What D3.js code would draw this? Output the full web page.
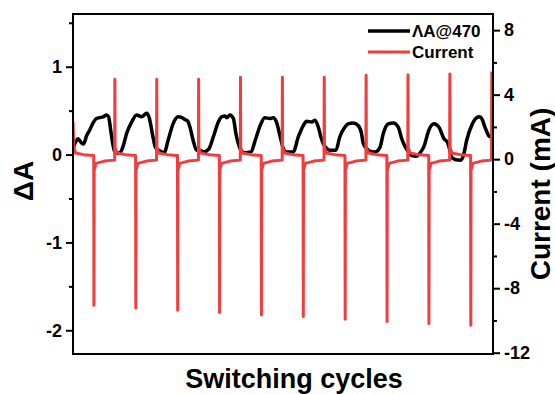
<!DOCTYPE html>
<html>
<head>
<meta charset="utf-8">
<script src="https://cdn.jsdelivr.net/npm/d3@7"></script>
<style>
  body { margin: 0; background: #fff; }
  .chart { width: 555px; height: 394px; }
  text { font-family: "Liberation Sans", Arial, sans-serif; font-weight: bold; fill: #000; }
</style>
</head>
<body>
<div class="chart"></div>
<script>
// ΔA@470 trace, [switching time (cycles), ΔA]
var absTrace = [
  [0.00, 0.08], [0.06, 0.14], [0.12, 0.18], [0.19, 0.14], [0.25, 0.12], [0.33, 0.22], [0.40, 0.28],
  [0.48, 0.36], [0.56, 0.41], [0.64, 0.42], [0.72, 0.43], [0.80, 0.45], [0.85, 0.43], [0.90, 0.28],
  [0.95, 0.12], [0.99, 0.04],
  [1.04, 0.015], [1.12, 0.02], [1.20, 0.10], [1.28, 0.24], [1.40, 0.37], [1.52, 0.45], [1.64, 0.43],
  [1.76, 0.47], [1.82, 0.42], [1.91, 0.20], [1.97, 0.08],
  [2.08, 0.04], [2.18, 0.02], [2.27, 0.16], [2.39, 0.35], [2.51, 0.43], [2.60, 0.42], [2.67, 0.40],
  [2.74, 0.38], [2.80, 0.30], [2.87, 0.16], [2.95, 0.05],
  [3.02, 0.05], [3.12, 0.03], [3.24, 0.06], [3.35, 0.20], [3.47, 0.37], [3.55, 0.43], [3.63, 0.44],
  [3.67, 0.42], [3.75, 0.45], [3.83, 0.41], [3.89, 0.24], [3.95, 0.12], [4.01, 0.05],
  [4.10, 0.02], [4.25, 0.03], [4.35, 0.16], [4.47, 0.33], [4.58, 0.42], [4.70, 0.41], [4.78, 0.42],
  [4.86, 0.37], [4.93, 0.24], [4.98, 0.14], [5.02, 0.07],
  [5.10, 0.03], [5.26, 0.03], [5.38, 0.20], [5.50, 0.33], [5.58, 0.38], [5.70, 0.37], [5.78, 0.39],
  [5.86, 0.31], [5.92, 0.20], [5.98, 0.12], [6.06, 0.07],
  [6.14, 0.05], [6.28, 0.05], [6.37, 0.20], [6.49, 0.31], [6.57, 0.35], [6.69, 0.36], [6.81, 0.33],
  [6.89, 0.24], [6.93, 0.13], [7.01, 0.07],
  [7.09, 0.04], [7.22, 0.03], [7.33, 0.08], [7.41, 0.24], [7.53, 0.35], [7.65, 0.36], [7.77, 0.31],
  [7.85, 0.18], [7.93, 0.09], [8.01, 0.03],
  [8.08, -0.01], [8.20, -0.02], [8.29, 0.02], [8.38, 0.09], [8.50, 0.28], [8.62, 0.35], [8.74, 0.31],
  [8.86, 0.18], [8.94, 0.14], [9.00, 0.05],
  [9.04, -0.03], [9.14, -0.06], [9.26, -0.065], [9.33, 0.00], [9.40, 0.16], [9.52, 0.33], [9.64, 0.42],
  [9.70, 0.43], [9.76, 0.41], [9.84, 0.31], [9.92, 0.22], [10.00, 0.19], [10.03, 0.17]
];

// current trace, [switching time (cycles), mA]
var currentTrace = [
  [0.00, 2.30], [0.02, 0.80], [0.06, 0.38], [0.25, 0.28], [0.495, 0.22],
  [0.50, -9.06], [0.505, -0.70], [0.55, -0.26], [0.75, -0.12], [0.995, -0.06],
  [1.00, 4.96], [1.005, 0.70], [1.05, 0.38], [1.25, 0.28], [1.495, 0.22],
  [1.50, -9.23], [1.505, -0.70], [1.55, -0.26], [1.75, -0.12], [1.995, -0.06],
  [2.00, 4.96], [2.005, 0.70], [2.05, 0.38], [2.25, 0.28], [2.495, 0.22],
  [2.50, -9.37], [2.505, -0.70], [2.55, -0.26], [2.75, -0.12], [2.995, -0.06],
  [3.00, 4.96], [3.005, 0.70], [3.05, 0.38], [3.25, 0.28], [3.495, 0.22],
  [3.50, -9.50], [3.505, -0.70], [3.55, -0.26], [3.75, -0.12], [3.995, -0.06],
  [4.00, 5.08], [4.005, 0.70], [4.05, 0.38], [4.25, 0.28], [4.495, 0.22],
  [4.50, -9.66], [4.505, -0.70], [4.55, -0.26], [4.75, -0.12], [4.995, -0.06],
  [5.00, 5.08], [5.005, 0.70], [5.05, 0.38], [5.25, 0.28], [5.495, 0.22],
  [5.50, -9.75], [5.505, -0.70], [5.55, -0.26], [5.75, -0.12], [5.995, -0.06],
  [6.00, 5.08], [6.005, 0.70], [6.05, 0.38], [6.25, 0.28], [6.495, 0.22],
  [6.50, -9.93], [6.505, -0.70], [6.55, -0.26], [6.75, -0.12], [6.995, -0.06],
  [7.00, 5.20], [7.005, 0.70], [7.05, 0.38], [7.25, 0.28], [7.495, 0.22],
  [7.50, -10.06], [7.505, -0.70], [7.55, -0.26], [7.75, -0.12], [7.995, -0.06],
  [8.00, 5.24], [8.005, 0.70], [8.05, 0.38], [8.25, 0.28], [8.495, 0.22],
  [8.50, -10.19], [8.505, -0.70], [8.55, -0.26], [8.75, -0.12], [8.995, -0.06],
  [9.00, 5.28], [9.005, 0.70], [9.05, 0.38], [9.25, 0.28], [9.495, 0.22],
  [9.50, -10.30], [9.505, -0.70], [9.55, -0.26], [9.75, -0.12], [9.995, -0.06],
  [10.00, 5.35], [10.005, 0.70], [10.03, 0.45]
];

var leftTicks = [-2, -1, 0, 1];
var leftMinorTicks = [-1.5, -0.5, 0.5, 1.5];
var rightTicks = [-12, -8, -4, 0, 4, 8];
var rightMinorTicks = [-10, -6, -2, 2, 6];
var legendLabels = ["\u039BA@470", "Current"];

function drawSwitchingChart() {
  var eleChart = d3.select(".chart").html(""),
      W = 555, H = 394,
      margin = {top: 14, right: 62, bottom: 40, left: 73},
      width = W - margin.left - margin.right,
      height = H - margin.top - margin.bottom;

  var svg = eleChart.append("svg").attr("width", W).attr("height", H);

  var x = d3.scaleLinear().domain([0, 10.03]).range([0, width]),
      yL = d3.scaleLinear().domain([-2.27, 1.6]).range([height, 0]),
      yR = d3.scaleLinear().domain([-12.08, 9]).range([height, 0]);

  var g = svg.append("g")
      .attr("transform", "translate(" + margin.left + "," + margin.top + ")");

  g.append("clipPath").attr("id", "plotClip")
    .append("rect").attr("width", width).attr("height", height);

  var lineA = d3.line()
      .x(function(d) { return x(d[0]); })
      .y(function(d) { return yL(d[1]); })
      .curve(d3.curveMonotoneX);

  var lineI = d3.line()
      .x(function(d) { return x(d[0]); })
      .y(function(d) { return yR(d[1]); });

  var plot = g.append("g").attr("clip-path", "url(#plotClip)");

  plot.append("path")
      .datum(absTrace)
      .attr("fill", "none")
      .attr("stroke", "#000")
      .attr("stroke-width", 3.5)
      .attr("stroke-linejoin", "round")
      .attr("d", lineA);

  plot.append("path")
      .datum(currentTrace)
      .attr("fill", "none")
      .attr("stroke", "#f23c3f")
      .attr("stroke-width", 3)
      .attr("stroke-linejoin", "round")
      .attr("stroke-linecap", "round")
      .attr("d", lineI);

  // frame
  g.append("rect")
      .attr("width", width).attr("height", height)
      .attr("fill", "none").attr("stroke", "#000").attr("stroke-width", 2);

  // left axis, major + minor
  var axL = g.append("g")
      .attr("class", "axis axis-y")
      .call(d3.axisLeft(yL).tickValues(leftTicks).tickSize(7).tickPadding(4).tickFormat(d3.format("d")));
  g.append("g")
      .attr("class", "axis minor")
      .call(d3.axisLeft(yL).tickValues(leftMinorTicks).tickSize(4).tickFormat(""));

  // right axis, major + minor
  var axR = g.append("g")
      .attr("class", "axis axis-y2")
      .attr("transform", "translate(" + width + ",0)")
      .call(d3.axisRight(yR).tickValues(rightTicks).tickSize(7).tickPadding(4).tickFormat(d3.format("d")));
  g.append("g")
      .attr("class", "axis minor")
      .attr("transform", "translate(" + width + ",0)")
      .call(d3.axisRight(yR).tickValues(rightMinorTicks).tickSize(4).tickFormat(""));

  g.selectAll(".domain").remove();
  g.selectAll(".tick line").attr("stroke", "#000").attr("stroke-width", 2);
  g.selectAll(".minor .tick text").remove();
  [axL, axR].forEach(function(ax) {
    ax.selectAll(".tick text")
        .style("font-family", "'Liberation Sans', Arial, sans-serif")
        .style("font-weight", "bold")
        .style("font-size", "18px")
        .text(function(d) { return String(d); });
  });

  // axis titles
  svg.append("text")
      .attr("transform", "translate(33," + (margin.top + height / 2 - 3) + ") rotate(-90)")
      .attr("text-anchor", "middle")
      .style("font-size", "28px")
      .text("\u0394A");

  svg.append("text")
      .attr("transform", "translate(550,194) rotate(-90)")
      .attr("text-anchor", "middle")
      .style("font-size", "28px")
      .text("Current (mA)");

  svg.append("text")
      .attr("x", 294).attr("y", 388)
      .attr("text-anchor", "middle")
      .style("font-size", "27px")
      .text("Switching cycles");

  // legend
  var legendColors = ["#000", "#f23c3f"];
  var leg = svg.append("g").attr("transform", "translate(368,31)");
  leg.selectAll("g.item")
    .data(legendLabels)
    .enter().append("g")
      .attr("class", "item")
      .attr("transform", function(d, i) { return "translate(0," + (i * 21) + ")"; })
      .each(function(d, i) {
        var it = d3.select(this);
        it.append("line")
            .attr("x1", 0).attr("x2", 42)
            .attr("stroke", legendColors[i])
            .attr("stroke-width", i === 0 ? 3.5 : 3);
        it.append("text")
            .attr("x", 44).attr("y", 6)
            .style("font-size", "17px")
            .text(d);
      });
}

drawSwitchingChart();
</script>
</body>
</html>
